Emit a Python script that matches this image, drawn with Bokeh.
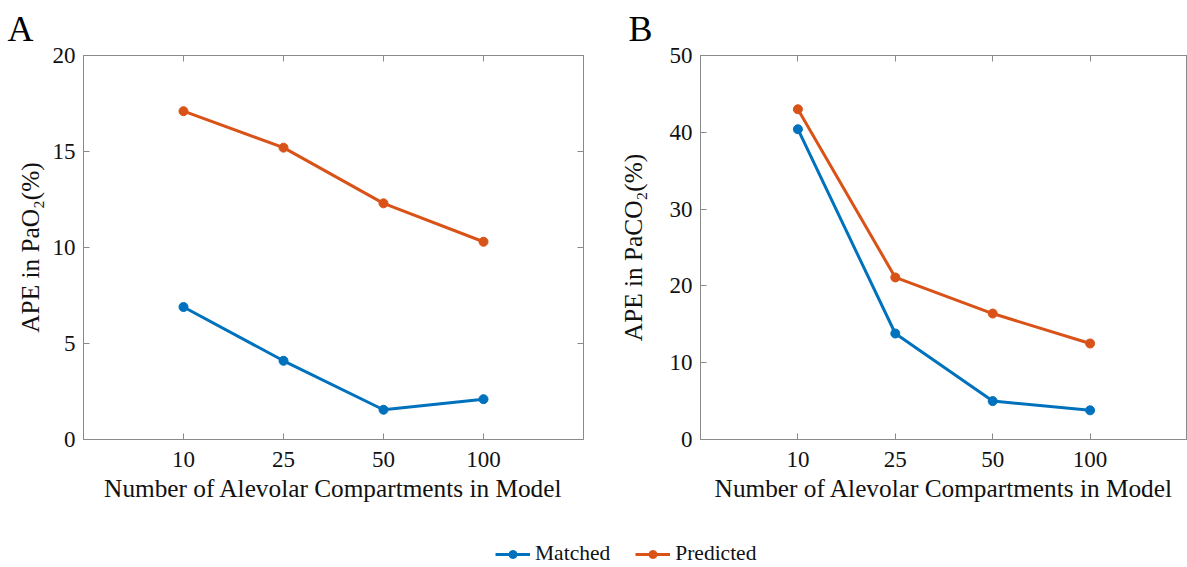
from bokeh.plotting import figure
from bokeh.models import Range1d, FixedTicker, LinearAxis, Legend, LegendItem, CustomJSTickFormatter
from bokeh.layouts import column, row
from bokeh.embed import file_html
from bokeh.resources import INLINE

# ---------------- data ----------------
compartments = ["10", "25", "50", "100"]
pao2_matched = [6.9, 4.1, 1.55, 2.1]
pao2_predicted = [17.1, 15.2, 12.3, 10.3]
paco2_matched = [40.4, 13.8, 5.0, 3.8]
paco2_predicted = [43.0, 21.1, 16.4, 12.5]
pao2_ticks = [0, 5, 10, 15, 20]
paco2_ticks = [0, 10, 20, 30, 40, 50]
series_names = ["Matched", "Predicted"]

BLUE = "#0072BD"
RED = "#D95319"
FONT = "Liberation Serif"
AX = "#8a8a8a"
TXT = "#111111"

xpos = list(range(1, len(compartments) + 1))
overrides = {x: c for x, c in zip(xpos, compartments)}


def style_axis(ax, show_labels=True):
    ax.axis_line_color = AX
    ax.major_tick_line_color = AX
    ax.minor_tick_line_color = None
    ax.major_tick_in = 6
    ax.major_tick_out = 0
    ax.major_label_text_font = FONT
    ax.major_label_text_color = TXT
    ax.axis_label_text_font = FONT
    ax.axis_label_text_color = TXT
    ax.axis_label_text_font_style = "normal"
    if not show_labels:
        ax.formatter = CustomJSTickFormatter(code="return ''")
        ax.major_label_standoff = 0


def panel(letter, ylabel, ymax, yticks, matched, predicted, width, bl, br,
          title_off, ylab_standoff, right_axis):
    p = figure(width=width, height=515,
               x_range=Range1d(0, len(compartments) + 1), y_range=Range1d(0, ymax),
               output_backend="svg", toolbar_location=None,
               min_border_left=bl, min_border_right=br,
               min_border_top=54, min_border_bottom=76)
    p.grid.visible = False
    p.outline_line_color = AX
    p.background_fill_color = "white"
    p.border_fill_color = "white"

    p.title.text = letter
    p.title.text_font = FONT
    p.title.text_font_size = "36px"
    p.title.text_font_style = "normal"
    p.title.text_color = "black"
    p.title.offset = title_off
    p.title.standoff = 13

    p.xaxis.ticker = FixedTicker(ticks=xpos)
    p.xaxis.major_label_overrides = overrides
    p.xaxis.axis_label = "Number of Alevolar Compartments in Model"
    p.yaxis.ticker = FixedTicker(ticks=yticks)
    p.yaxis.axis_label = ylabel
    for ax in p.xaxis + p.yaxis:
        style_axis(ax)
    p.xaxis.major_label_text_font_size = "23px"
    p.yaxis.major_label_text_font_size = "23px"
    p.xaxis.axis_label_text_font_size = "25.3px"
    p.yaxis.axis_label_text_font_size = "25.3px"
    p.xaxis.major_label_standoff = 12
    p.xaxis.axis_label_standoff = 4
    p.yaxis.major_label_standoff = 8
    p.yaxis.axis_label_standoff = ylab_standoff

    top = LinearAxis(ticker=FixedTicker(ticks=xpos))
    style_axis(top, show_labels=False)
    p.add_layout(top, "above")
    if right_axis:
        right = LinearAxis(ticker=FixedTicker(ticks=yticks))
        style_axis(right, show_labels=False)
        p.add_layout(right, "right")

    for vals, color in [(matched, BLUE), (predicted, RED)]:
        p.line(xpos, vals, line_color=color, line_width=3)
        p.scatter(xpos, vals, marker="circle", size=9, fill_color=color, line_color=color)
    return p


pA = panel("A", "APE in PaO\u2082(%)", 20, pao2_ticks, pao2_matched, pao2_predicted,
           width=615, bl=83, br=32, title_off=-76, ylab_standoff=6, right_axis=True)
pB = panel("B", "APE in PaCO\u2082(%)", 50, paco2_ticks, paco2_matched, paco2_predicted,
           width=572, bl=79, br=0, title_off=-72, ylab_standoff=20, right_axis=False)

# legend strip: renderers use the series data but the view range lies outside it
pl = figure(width=1187, height=52, output_backend="svg", toolbar_location=None,
            x_range=Range1d(0, 1), y_range=Range1d(-2, -1),
            x_axis_type=None, y_axis_type=None, min_border=0)
pl.grid.visible = False
pl.outline_line_color = None
items = []
for name, color, vals in zip(series_names, [BLUE, RED], [pao2_matched, pao2_predicted]):
    ln = pl.line(xpos, vals, line_color=color, line_width=3)
    sc = pl.scatter(xpos, vals, marker="circle", size=8, fill_color=color, line_color=color)
    items.append(LegendItem(label=name, renderers=[ln, sc]))
leg = Legend(items=items, orientation="horizontal", location=(495, 1),
             padding=0, margin=0, spacing=25, glyph_width=35, glyph_height=20,
             label_standoff=5, label_text_font=FONT, label_text_font_size="21.5px",
             label_text_color=TXT, border_line_alpha=0, background_fill_alpha=0)
pl.add_layout(leg, "center")

layout = column(row(pA, pB), pl)
open("out.html", "w").write(file_html(layout, INLINE))
